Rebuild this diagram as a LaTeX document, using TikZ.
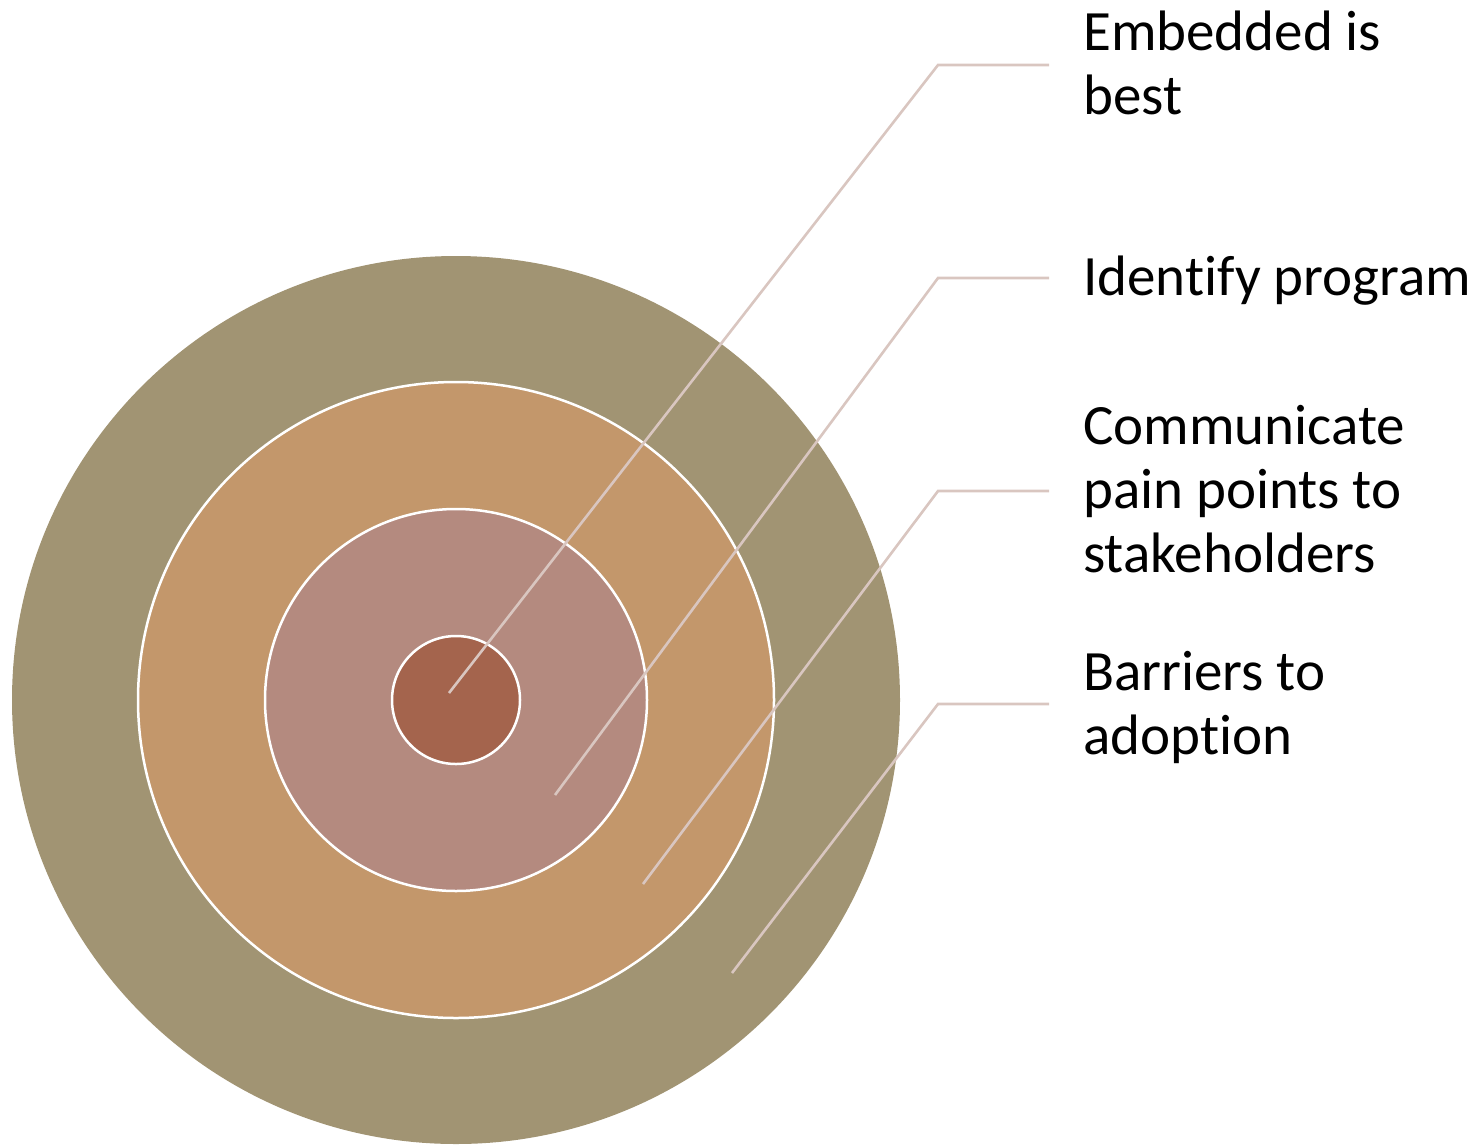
\documentclass[tikz,border=0pt]{standalone}
\usepackage{fontspec}
\setmainfont{Carlito}[Ligatures=NoCommon]
\definecolor{ringA}{HTML}{A19473}
\definecolor{ringB}{HTML}{C3976B}
\definecolor{ringC}{HTML}{B48A7F}
\definecolor{ringD}{HTML}{A4644D}
\definecolor{leader}{HTML}{D9C6C0}
\begin{document}
\begin{tikzpicture}[x=1pt,y=-1pt,
  ring/.style={circle,draw=white,line width=2.5pt,inner sep=0pt},
  conn/.style={draw=leader,line width=2.6pt},
  lbl/.style={anchor=base west,align=left,inner sep=0pt,font=\fontsize{57}{64}\selectfont}]
\useasboundingbox (0,0) rectangle (1483,1144);
\node[ring,fill=ringA,draw=none,minimum size=888pt] (r1) at (456,700) {};
\node[ring,fill=ringB,minimum size=636pt] (r2) at (456,700) {};
\node[ring,fill=ringC,minimum size=382pt] (r3) at (456,700) {};
\node[ring,fill=ringD,minimum size=128pt] (r4) at (456,700) {};
\coordinate (s1) at (449,693);
\coordinate (k1) at (938,65);
\coordinate (e1) at (1049,65);
\coordinate (s2) at (555,795);
\coordinate (k2) at (938,278);
\coordinate (e2) at (1049,278);
\coordinate (s3) at (643,884);
\coordinate (k3) at (938,491);
\coordinate (e3) at (1049,491);
\coordinate (s4) at (732,973);
\coordinate (k4) at (938,704);
\coordinate (e4) at (1049,704);
\draw[conn] (s1) -- (k1) -- (e1);
\draw[conn] (s2) -- (k2) -- (e2);
\draw[conn] (s3) -- (k3) -- (e3);
\draw[conn] (s4) -- (k4) -- (e4);
\node[lbl] (t1) at (1083,114) {Embedded is\\best};
\node[lbl] (t2) at (1083,295) {Identify program};
\node[lbl] (t3) at (1083,572) {Communicate\\pain points to\\stakeholders};
\node[lbl] (t4) at (1083,754) {Barriers to\\adoption};
\end{tikzpicture}
\end{document}
